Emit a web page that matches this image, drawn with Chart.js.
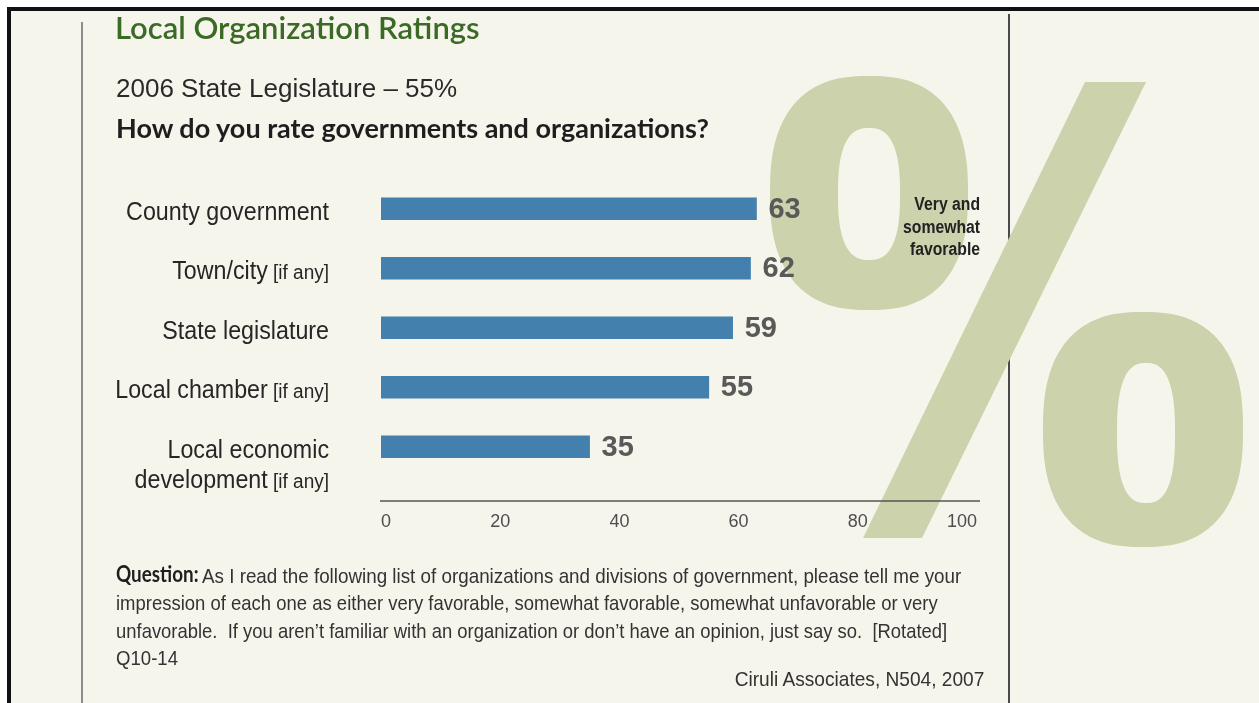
<!DOCTYPE html>
<html><head><meta charset="utf-8">
<script src="https://cdn.jsdelivr.net/npm/chart.js@4/dist/chart.umd.min.js"></script>
<style>
html,body{margin:0;padding:0;}
body{width:1259px;height:703px;position:relative;overflow:hidden;background:#f6f5ec;font-family:"Liberation Sans",Arial,sans-serif;}
.abs{position:absolute;white-space:nowrap;}
#c{position:absolute;left:0;top:0;}
.cl{transform:scaleX(0.885);transform-origin:left top;}
.cr{transform:scaleX(0.89);transform-origin:right top;}
</style></head>
<body>
<div class="abs" style="left:0;top:0;width:1259px;height:7px;background:#fff"></div>
<div class="abs" style="left:0;top:0;width:7px;height:703px;background:#fff"></div>
<div class="abs" style="left:7px;top:7px;width:1252px;height:4px;background:#111"></div>
<div class="abs" style="left:7px;top:7px;width:4px;height:696px;background:#111"></div>
<div class="abs" style="left:81px;top:22px;width:2px;height:681px;background:#8c8c8c"></div>
<div class="abs" style="left:1008px;top:14px;width:2px;height:689px;background:#4a4a4a"></div>
<canvas id="c" width="1259" height="703"></canvas>

<div class="abs" style="left:115px;top:12px;font-family:Lato,sans-serif;font-weight:600;font-size:31px;line-height:31px;color:#3b6a26;">Local Organization Ratings</div>
<div class="abs" style="left:116px;top:75px;font-size:26px;line-height:26px;color:#2a2a2a;">2006 State Legislature – 55%</div>
<div class="abs" style="left:116px;top:114px;font-family:Lato,sans-serif;font-weight:700;font-size:27px;line-height:27px;color:#1e1e1e;">How do you rate governments and organizations?</div>

<div class="abs cr" style="right:279px;top:193px;text-align:right;font-weight:700;font-size:18px;line-height:22.5px;color:#222;transform:scaleX(0.875);">Very and<br>somewhat<br>favorable</div>

<div class="abs" style="left:116px;top:562px;font-family:Lato,sans-serif;font-weight:700;font-size:23px;line-height:23px;color:#1e1e1e;transform:scaleX(0.82);transform-origin:left top;">Question:</div>
<div class="abs cl" style="left:202px;top:565px;font-size:21px;line-height:21px;color:#333;transform:scaleX(0.896);">As I read the following list of organizations and divisions of government, please tell me your</div>
<div class="abs cl" style="left:116px;top:592px;font-size:21px;line-height:21px;color:#333;transform:scaleX(0.88);">impression of each one as either very favorable, somewhat favorable, somewhat unfavorable or very</div>
<div class="abs cl" style="left:116px;top:620px;font-size:21px;line-height:21px;color:#333;transform:scaleX(0.878);">unfavorable.&nbsp; If you aren’t familiar with an organization or don’t have an opinion, just say so.&nbsp; [Rotated]</div>
<div class="abs cl" style="left:116px;top:647px;font-size:21px;line-height:21px;color:#333;">Q10-14</div>
<div class="abs cr" style="right:275px;top:668px;font-size:21px;line-height:21px;color:#333;transform:scaleX(0.91);">Ciruli Associates, N504, 2007</div>

<script>
const categories = ["County government", "Town/city [if any]", "State legislature", "Local chamber [if any]", ["Local economic", "development [if any]"]];
const favorable = [63, 62, 59, 55, 35];
const xTickValues = [0, 20, 40, 60, 80, 100];

function superellipse(ctx, cx, cy, a, b, n, ccw) {
  const N = 160;
  for (let k = 0; k <= N; k++) {
    const t = (ccw ? -1 : 1) * k / N * Math.PI * 2;
    const c = Math.cos(t), s = Math.sin(t);
    const x = cx + a * Math.sign(c) * Math.pow(Math.abs(c), 2 / n);
    const y = cy + b * Math.sign(s) * Math.pow(Math.abs(s), 2 / n);
    if (k === 0) ctx.moveTo(x, y); else ctx.lineTo(x, y);
  }
  ctx.closePath();
}

const percentBg = {
  id: 'percentBg',
  beforeDatasetsDraw(chart) {
    const ctx = chart.ctx;
    ctx.save();
    ctx.fillStyle = '#cbd2ac';
    ctx.beginPath();
    superellipse(ctx, 869, 193, 99, 117, 2.5, false);
    superellipse(ctx, 869, 194, 31, 66, 2.6, true);
    ctx.fill('evenodd');
    ctx.beginPath();
    superellipse(ctx, 1143, 429.5, 100, 117.5, 2.5, false);
    superellipse(ctx, 1146, 433, 29, 70, 2.6, true);
    ctx.fill('evenodd');
    ctx.beginPath();
    ctx.moveTo(1085, 82); ctx.lineTo(1146, 82); ctx.lineTo(922, 538); ctx.lineTo(863, 538);
    ctx.closePath();
    ctx.fill();
    ctx.restore();
  }
};

function scaledText(ctx, text, x, y, sx) {
  ctx.save();
  ctx.translate(x, y);
  ctx.scale(sx, 1);
  ctx.fillText(text, 0, 0);
  ctx.restore();
}

const labelsPlugin = {
  id: 'labelsPlugin',
  afterDatasetsDraw(chart) {
    const ctx = chart.ctx;
    const ys = chart.scales.y, xs = chart.scales.x;
    const area = chart.chartArea;
    ctx.save();
    // axis line
    ctx.strokeStyle = '#555';
    ctx.lineWidth = 1.5;
    ctx.beginPath();
    ctx.moveTo(xs.left - 1, area.bottom + 24.5);
    ctx.lineTo(xs.right + 3, area.bottom + 24.5);
    ctx.stroke();
    // value labels
    const meta = chart.getDatasetMeta(0);
    ctx.fillStyle = '#595959';
    ctx.font = 'bold 29px "Liberation Sans", Arial, sans-serif';
    ctx.textAlign = 'left';
    ctx.textBaseline = 'middle';
    meta.data.forEach((bar, i) => {
      ctx.fillText(String(favorable[i]), bar.x + 12, bar.y + 1);
    });
    // category labels
    const mainFont = '25px "Liberation Sans", sans-serif';
    const brFont = '20px "Liberation Sans", sans-serif';
    const sx = 0.93, sb = 0.95;
    ctx.fillStyle = '#262626';
    ctx.textBaseline = 'alphabetic';
    const xRight = area.left - 52;
    categories.forEach((lab, i) => {
      const y = ys.getPixelForValue(i);
      const lines = Array.isArray(lab) ? lab : [lab];
      lines.forEach((ln, j) => {
        const m = ln.match(/^(.*?)(\s*\[.*\])?$/);
        const main = m[1], br = m[2] || '';
        ctx.font = brFont; const wb = br ? ctx.measureText(br).width * sb : 0;
        ctx.font = mainFont; const wm = ctx.measureText(main).width * sx;
        const yb = y + 11 + j * 30;
        scaledText(ctx, main, xRight - wb - wm, yb, sx);
        if (br) { ctx.font = brFont; scaledText(ctx, br, xRight - wb, yb, sb); }
      });
    });
    ctx.restore();
  }
};

new Chart(document.getElementById('c'), {
  type: 'bar',
  data: {
    labels: categories,
    datasets: [{
      data: favorable,
      backgroundColor: '#4380ad',
      borderWidth: 0,
      barThickness: 22
    }]
  },
  options: {
    indexAxis: 'y',
    responsive: false,
    animation: false,
    layout: { padding: { left: 381, right: 282, top: 179, bottom: 0 } },
    plugins: { legend: { display: false }, tooltip: { enabled: false } },
    scales: {
      x: {
        min: 0, max: 100,
        afterBuildTicks(scale) { scale.ticks = xTickValues.map(v => ({ value: v })); },
        afterFit(scale) { scale.height = 226.5; },
        grid: { display: false, drawTicks: false },
        border: { display: false },
        ticks: {
          align: 'inner',
          padding: 35,
          color: '#4d4d4d',
          font: { family: '"Liberation Sans", Arial, sans-serif', size: 18 }
        }
      },
      y: {
        display: false
      }
    }
  },
  plugins: [percentBg, labelsPlugin]
});
</script>
</body></html>
